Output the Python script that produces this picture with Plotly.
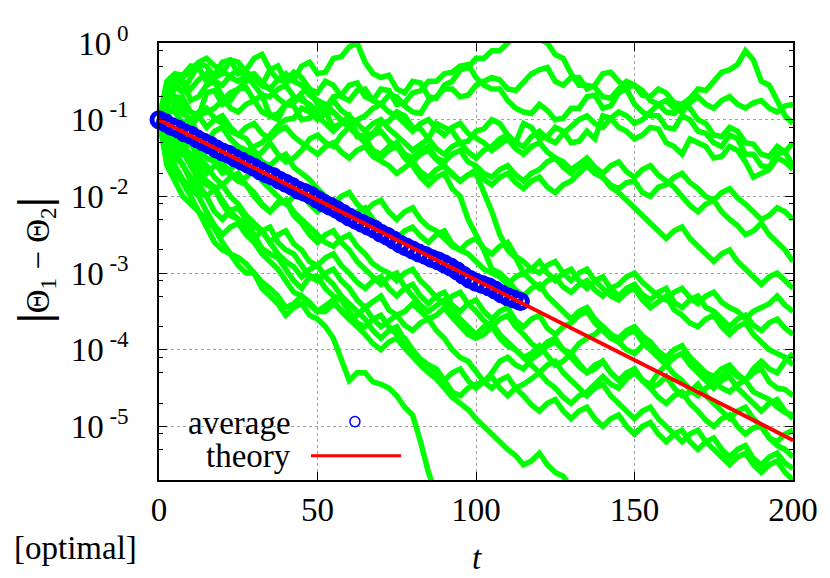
import plotly.graph_objects as go

# Values as log10 exponents (one decade = one unit).
# Each walk is read at t = 0, 5, ..., 200 ("_a") and at t = 2.5, 7.5, ..., 197.5 ("_b").
walk_t = [i * 2.5 for i in range(81)]

u1_a = [-1.0, -0.55, -0.45, -0.3, -0.4, -0.25, -0.45, -0.35, -0.5, -0.3, -0.4, -0.2, -0.05, -0.25,
        -0.45, -0.6, -0.5, -0.7, -0.55, -0.35, -0.2, -0.1, 0.0, 0.1, 0.05, -0.15, -0.4, -0.55, -0.7,
        -0.6, -0.55, -0.7, -0.65, -0.8, -0.6, -0.5, -0.35, -0.1, -0.5, -0.75, -1.05]
u1_b = [-0.65, -0.65, -0.28, -0.45, -0.22, -0.38, -0.55, -0.3, -0.48, -0.25, -0.38, -0.18, 0.0, -0.4,
        -0.42, -0.65, -0.52, -0.72, -0.5, -0.32, -0.2, -0.1, 0.1, 0.05, 0.0, -0.2, -0.55, -0.58, -0.72,
        -0.5, -0.68, -0.6, -0.78, -0.72, -0.62, -0.38, -0.28, -0.22, -0.55, -0.95]
u2_a = [-1.0, -0.4, -0.3, -0.5, -0.25, -0.4, -0.2, -0.35, -0.5, -0.45, -0.65, -0.55, -0.75, -0.6,
        -0.8, -0.7, -0.9, -0.75, -0.6, -0.7, -0.55, -0.45, -0.6, -0.5, -0.35, -0.5, -0.45, -0.6, -0.4,
        -0.5, -0.55, -0.75, -0.9, -0.8, -1.0, -1.2, -1.1, -1.3, -1.45, -1.35, -1.6]
u2_b = [-0.5, -0.42, -0.32, -0.42, -0.22, -0.35, -0.15, -0.48, -0.38, -0.6, -0.5, -0.7, -0.62, -0.75,
        -0.68, -0.82, -0.92, -0.7, -0.6, -0.68, -0.5, -0.48, -0.62, -0.4, -0.32, -0.55, -0.45, -0.55,
        -0.38, -0.58, -0.62, -0.8, -0.92, -0.85, -1.05, -1.22, -1.15, -1.32, -1.48, -1.42]
u3_a = [-1.0, -0.7, -0.9, -0.65, -0.8, -0.6, -0.75, -0.95, -0.8, -1.0, -0.85, -1.1, -0.95, -1.2,
        -1.05, -0.9, -1.1, -1.25, -1.1, -1.3, -1.15, -1.0, -1.2, -1.05, -1.25, -1.1, -1.3, -1.15, -0.95,
        -1.1, -1.25, -1.1, -1.3, -1.45, -1.3, -1.5, -1.35, -1.55, -1.7, -1.5, -1.65]
u3_b = [-0.8, -0.72, -0.95, -0.62, -0.75, -0.58, -0.68, -0.92, -0.82, -0.98, -0.9, -1.05, -1.22, -1.18,
        -1.02, -0.95, -1.12, -1.05, -1.15, -1.28, -1.12, -1.05, -1.3, -1.1, -1.22, -1.15, -1.28, -1.25,
        -0.98, -1.15, -1.2, -1.12, -1.35, -1.25, -1.35, -1.48, -1.4, -1.75, -1.65, -1.55]
u4_a = [-1.0, -0.6, -0.75, -0.55, -0.7, -0.9, -0.75, -0.95, -0.8, -0.65, -0.8, -0.7, -0.55, -0.7,
        -0.6, -0.8, -0.65, -0.5, -0.4, -0.3, -0.45, -0.6, -0.75, -0.9, -0.8, -1.0, -0.85, -0.7, -0.85,
        -0.65, -0.8, -0.95, -1.1, -0.95, -1.15, -1.3, -1.2, -1.45, -1.6, -1.45, -1.3]
u4_b = [-0.7, -0.5, -0.7, -0.5, -0.85, -0.8, -0.9, -1.0, -0.78, -0.6, -0.85, -0.68, -0.52, -0.75,
        -0.62, -0.78, -0.62, -0.5, -0.38, -0.28, -0.55, -0.6, -0.85, -0.92, -0.88, -0.98, -0.85, -0.68,
        -0.82, -0.6, -0.9, -0.95, -1.12, -1.0, -1.18, -1.35, -1.25, -1.45, -1.62, -1.42]
u5_a = [-1.0, -0.45, -0.6, -0.4, -0.55, -0.35, -0.55, -0.7, -0.55, -0.75, -0.9, -0.75, -0.95, -1.15,
        -1.0, -1.2, -1.4, -1.25, -1.45, -1.3, -1.5, -1.35, -1.2, -1.35, -1.15, -1.3, -1.1, -0.95, -1.1,
        -0.9, -1.05, -0.9, -0.75, -0.9, -0.7, -0.85, -0.7, -0.85, -0.75, -0.9, -0.8]
u5_b = [-0.55, -0.5, -0.48, -0.5, -0.42, -0.4, -0.68, -0.6, -0.7, -0.8, -0.85, -0.88, -1.05, -1.05,
        -1.12, -1.3, -1.32, -1.38, -1.35, -1.42, -1.4, -1.25, -1.3, -1.22, -1.25, -1.18, -1.0, -1.05,
        -0.98, -0.95, -1.0, -0.8, -0.85, -0.78, -0.8, -0.75, -0.8, -0.78, -0.85, -0.82]
m1_a = [-1.0, -1.2, -1.0, -1.3, -1.1, -1.35, -1.5, -1.3, -1.55, -1.4, -1.2, -1.35, -1.1, -1.25,
        -1.45, -1.3, -1.5, -1.35, -1.55, -1.4, -1.6, -1.75, -1.6, -1.8, -1.65, -1.5, -1.7, -1.55, -1.75,
        -1.9, -1.8, -2.0, -1.85, -1.7, -1.9, -2.05, -1.9, -2.1, -2.3, -2.15, -2.3]
m1_b = [-1.3, -1.05, -1.2, -1.15, -1.25, -1.4, -1.42, -1.45, -1.5, -1.25, -1.3, -1.2, -1.2, -1.4,
        -1.35, -1.45, -1.4, -1.5, -1.45, -1.55, -1.7, -1.65, -1.72, -1.7, -1.55, -1.62, -1.6, -1.68,
        -1.85, -1.82, -1.95, -1.88, -1.75, -1.82, -2.0, -1.95, -2.02, -2.2, -2.25, -2.2]
m2_a = [-1.0, -0.8, -1.0, -0.85, -1.05, -1.2, -1.05, -1.25, -1.1, -1.3, -1.45, -1.3, -1.5, -1.35,
        -1.55, -1.7, -1.55, -1.75, -1.6, -1.8, -1.7, -2.2, -2.7, -3.0, -2.85, -3.1, -2.95, -3.2, -3.05,
        -3.3, -3.15, -3.35, -3.2, -3.45, -3.3, -3.5, -3.7, -3.55, -3.75, -3.6, -3.8]
m2_b = [-0.95, -0.92, -0.9, -0.98, -1.15, -1.1, -1.18, -1.15, -1.22, -1.38, -1.35, -1.42, -1.4, -1.48,
        -1.6, -1.62, -1.68, -1.65, -1.72, -1.72, -1.95, -2.5, -2.8, -2.95, -3.0, -3.0, -3.1, -3.1, -3.2,
        -3.2, -3.28, -3.25, -3.38, -3.35, -3.45, -3.6, -3.6, -3.68, -3.65, -3.72]
m3_a = [-1.0, -1.4, -1.25, -1.5, -1.7, -1.55, -1.35, -1.2, -1.0, -0.85, -1.0, -0.9, -1.1, -0.95,
        -0.8, -0.95, -1.15, -1.0, -1.2, -1.05, -1.25, -1.4, -1.25, -1.45, -1.3, -1.5, -1.65, -1.5, -1.7,
        -1.55, -1.75, -1.6, -1.8, -2.0, -2.2, -2.05, -2.3, -2.5, -2.35, -2.6, -2.85]
m3_b = [-1.15, -1.35, -1.4, -1.55, -1.65, -1.42, -1.3, -1.08, -0.98, -0.9, -0.92, -1.0, -1.0, -0.85,
        -0.9, -1.05, -1.05, -1.12, -1.1, -1.18, -1.3, -1.32, -1.38, -1.35, -1.42, -1.55, -1.58, -1.62,
        -1.6, -1.68, -1.65, -1.72, -1.88, -2.12, -2.1, -2.2, -2.38, -2.45, -2.5, -2.7]
d1_a = [-1.0, -1.3, -1.5, -1.35, -1.6, -1.8, -1.65, -1.9, -2.1, -1.95, -2.2, -2.05, -2.3, -2.15,
        -2.4, -2.55, -2.4, -2.6, -2.45, -2.7, -2.55, -2.75, -2.6, -2.85, -3.0, -2.85, -3.1, -2.95, -3.2,
        -3.35, -3.2, -3.45, -3.3, -3.55, -3.7, -3.55, -3.8, -3.65, -3.9, -4.05, -4.2]
d1_b = [-1.2, -1.45, -1.38, -1.5, -1.72, -1.75, -1.8, -2.0, -2.0, -2.1, -2.1, -2.2, -2.2, -2.3,
        -2.5, -2.45, -2.52, -2.5, -2.62, -2.6, -2.68, -2.65, -2.78, -2.95, -2.9, -3.0, -3.0, -3.1, -3.3,
        -3.25, -3.35, -3.38, -3.48, -3.65, -3.6, -3.7, -3.7, -3.8, -4.0, -4.1]
d2_a = [-1.0, -0.7, -0.9, -1.1, -0.95, -1.2, -1.4, -1.6, -1.45, -1.7, -1.9, -2.1, -1.95, -2.2,
        -2.05, -2.3, -2.15, -2.4, -2.55, -2.7, -2.85, -3.0, -3.15, -3.0, -3.2, -3.05, -3.25, -3.1, -3.3,
        -3.15, -3.0, -3.2, -3.35, -3.2, -3.4, -3.25, -3.45, -3.6, -3.45, -3.3, -3.5]
d2_b = [-0.8, -0.85, -0.95, -1.0, -1.1, -1.25, -1.55, -1.5, -1.62, -1.78, -2.0, -2.0, -2.1, -2.1,
        -2.2, -2.2, -2.3, -2.45, -2.65, -2.75, -2.95, -3.05, -3.05, -3.1, -3.1, -3.18, -3.15, -3.22,
        -3.2, -3.05, -3.12, -3.3, -3.25, -3.32, -3.3, -3.38, -3.5, -3.5, -3.4, -3.42]
d3_a = [-1.0, -1.5, -1.8, -2.0, -2.3, -2.15, -2.4, -2.6, -2.45, -2.7, -2.9, -2.75, -3.0, -3.2,
        -3.05, -3.3, -3.15, -3.4, -3.25, -3.5, -3.35, -3.6, -3.45, -3.7, -3.55, -3.8, -3.65, -3.5, -3.75,
        -3.9, -4.05, -3.9, -4.1, -3.95, -4.2, -4.35, -4.2, -4.4, -4.25, -4.5, -4.6]
d3_b = [-1.35, -1.58, -1.95, -2.2, -2.18, -2.3, -2.45, -2.5, -2.62, -2.85, -2.8, -2.9, -3.12, -3.1,
        -3.2, -3.2, -3.3, -3.3, -3.42, -3.4, -3.5, -3.5, -3.62, -3.6, -3.72, -3.7, -3.55, -3.65, -3.85,
        -4.0, -3.95, -4.02, -4.0, -4.12, -4.3, -4.25, -4.32, -4.3, -4.42, -4.52]
d4_a = [-1.0, -1.8, -2.1, -2.4, -2.7, -2.9, -3.0, -3.3, -3.55, -3.4, -3.6, -3.85, -4.4, -4.3,
        -4.45, -4.6, -4.85, -5.6, -6.2] + [None] * 22
d4_b = [-1.6, -2.0, -2.2, -2.6, -2.75, -3.0, -3.2, -3.4, -3.45, -3.55, -3.7, -4.15, -4.3, -4.42,
        -4.5, -4.75, -5.2, -5.9] + [None] * 22
d5_a = [-1.0, -1.6, -1.9, -2.2, -2.5, -2.35, -2.6, -2.85, -3.1, -3.3, -3.5, -3.35, -3.6, -3.8,
        -4.0, -3.85, -4.1, -4.3, -4.5, -4.7, -4.9, -5.1, -5.3, -5.5, -5.35, -5.6, -5.8, -6.2] + [None] * 13
d5_b = [-1.4, -1.78, -2.0, -2.38, -2.4, -2.5, -2.75, -2.95, -3.25, -3.38, -3.42, -3.5, -3.68, -3.92,
        -3.9, -3.98, -4.2, -4.38, -4.62, -4.78, -5.0, -5.22, -5.38, -5.45, -5.5, -5.65, -6.0] + [None] * 13
d6_a = [-1.0, -1.2, -1.45, -1.7, -1.55, -1.8, -2.0, -2.2, -2.05, -2.3, -2.5, -2.65, -2.5, -2.75,
        -2.95, -3.1, -2.95, -3.2, -3.4, -3.25, -3.5, -3.7, -3.55, -3.8, -4.0, -3.85, -4.1, -4.3, -4.15,
        -4.4, -4.25, -4.5, -4.7, -4.55, -4.8, -5.0, -4.85, -5.1, -5.0, -5.25, -5.4]
d6_b = [-1.15, -1.35, -1.6, -1.6, -1.7, -1.85, -2.12, -2.1, -2.2, -2.4, -2.6, -2.55, -2.65, -2.88,
        -3.0, -3.0, -3.1, -3.32, -3.3, -3.4, -3.62, -3.6, -3.7, -3.92, -3.9, -4.0, -4.22, -4.2, -4.3,
        -4.3, -4.4, -4.62, -4.6, -4.7, -4.92, -4.9, -5.0, -5.02, -5.15, -5.3]
d7_a = [-1.0, -1.35, -1.6, -1.85, -2.1, -2.3, -2.55, -2.4, -2.7, -2.9, -3.1, -2.95, -3.2, -3.45,
        -3.3, -3.55, -3.75, -3.6, -3.85, -4.1, -4.3, -4.5, -4.35, -4.6, -4.8, -4.65, -4.9, -4.75, -5.0,
        -4.85, -5.1, -4.95, -5.2, -5.05, -5.3, -5.15, -5.4, -5.25, -5.5, -5.35, -5.55]
d7_b = [-1.25, -1.42, -1.78, -1.9, -2.25, -2.4, -2.45, -2.6, -2.75, -3.05, -3.0, -3.1, -3.35, -3.38,
        -3.48, -3.68, -3.65, -3.75, -4.0, -4.15, -4.42, -4.4, -4.5, -4.72, -4.7, -4.8, -4.8, -4.9, -4.9,
        -5.0, -5.0, -5.1, -5.1, -5.2, -5.2, -5.3, -5.3, -5.42, -5.4, -5.48]
d8_a = [-1.0, -1.7, -2.0, -2.3, -2.6, -2.8, -3.0, -3.2, -3.45, -3.3, -3.5, -3.4, -3.6, -3.45,
        -3.7, -3.55, -3.4, -3.6, -3.45, -3.7, -3.85, -3.7, -3.95, -4.1, -3.95, -4.2, -4.05, -4.3, -4.15,
        -4.4, -4.25, -4.5, -4.35, -4.6, -4.45, -4.7, -4.9, -4.75, -5.0, -5.2, -5.05]
d8_b = [-1.5, -1.82, -2.2, -2.42, -2.75, -2.88, -3.12, -3.3, -3.4, -3.42, -3.5, -3.48, -3.55, -3.6,
        -3.62, -3.5, -3.5, -3.55, -3.58, -3.8, -3.8, -3.85, -4.0, -4.05, -4.08, -4.15, -4.18, -4.25,
        -4.3, -4.35, -4.4, -4.45, -4.5, -4.55, -4.6, -4.82, -4.8, -4.9, -5.15, -5.1]
d9_a = [-1.0, -1.25, -1.55, -1.8, -2.05, -2.3, -2.5, -2.75, -2.95, -3.2, -3.05, -3.3, -3.5, -3.7,
        -3.55, -3.8, -4.0, -4.2, -4.4, -4.6, -4.45, -4.3, -4.1, -4.25, -4.05, -3.9, -4.05, -3.85, -3.7,
        -3.85, -3.7, -3.9, -4.1, -3.95, -4.2, -4.4, -4.55, -4.4, -4.6, -4.75, -4.85]
d9_b = [-1.2, -1.35, -1.7, -1.88, -2.2, -2.35, -2.68, -2.8, -3.1, -3.05, -3.2, -3.35, -3.65, -3.6,
        -3.7, -3.85, -4.15, -4.25, -4.55, -4.5, -4.42, -4.15, -4.2, -4.12, -3.95, -4.0, -3.92, -3.8,
        -3.8, -3.75, -3.82, -4.05, -4.0, -4.1, -4.32, -4.5, -4.45, -4.55, -4.65, -4.82]
e1_a = [-1.0, -0.5, -0.35, -0.2, -0.35, -0.5, -0.4, -0.6, -0.8, -0.7, -0.95, -1.15, -1.0, -1.3,
        -1.5, -1.35, -1.6, -1.85, -1.7, -2.0, -2.5, -2.95, -3.1, -3.3, -3.15, -3.4, -3.6, -3.45, -3.7,
        -3.9, -3.75, -4.0, -4.2, -4.05, -4.3, -4.5, -4.35, -4.6, -4.8, -4.65, -4.9]
e1_b = [-0.6, -0.45, -0.25, -0.3, -0.45, -0.42, -0.52, -0.72, -0.72, -0.85, -1.05, -1.05, -1.18, -1.42,
        -1.4, -1.5, -1.75, -1.75, -1.9, -2.3, -2.7, -3.0, -3.22, -3.2, -3.3, -3.5, -3.5, -3.6, -3.82,
        -3.8, -3.9, -4.12, -4.1, -4.2, -4.42, -4.4, -4.5, -4.72, -4.7, -4.8]
e2_a = [-1.0, -0.9, -1.1, -0.9, -0.75, -0.6, -0.45, -0.6, -0.4, -0.55, -0.75, -0.9, -1.1, -1.3,
        -1.15, -1.35, -1.55, -1.4, -1.6, -1.8, -1.65, -1.85, -1.7, -1.9, -1.75, -1.95, -1.8, -1.6, -1.75,
        -1.95, -2.15, -2.35, -2.55, -2.4, -2.65, -2.85, -2.7, -2.95, -3.15, -3.0, -3.2]
e2_b = [-0.85, -1.05, -0.95, -0.85, -0.65, -0.5, -0.55, -0.48, -0.5, -0.68, -0.8, -1.02, -1.2, -1.2,
        -1.28, -1.45, -1.45, -1.52, -1.7, -1.72, -1.78, -1.75, -1.82, -1.8, -1.88, -1.85, -1.7, -1.7,
        -1.88, -2.05, -2.25, -2.45, -2.45, -2.55, -2.75, -2.75, -2.85, -3.05, -3.05, -3.1]
e3_a = [-1.0, -1.5, -1.3, -1.6, -1.85, -1.7, -1.95, -2.2, -2.05, -2.35, -2.6, -2.45, -2.7, -2.95,
        -3.15, -3.0, -3.3, -3.5, -3.35, -3.6, -3.8, -3.65, -3.9, -4.1, -4.3, -4.15, -4.4, -4.6, -4.45,
        -4.7, -4.9, -4.75, -5.0, -5.2, -5.05, -5.3, -5.5, -5.35, -5.6, -5.45, -5.7]
e3_b = [-1.3, -1.38, -1.5, -1.75, -1.75, -1.85, -2.1, -2.08, -2.25, -2.5, -2.5, -2.6, -2.85, -3.05,
        -3.05, -3.18, -3.42, -3.42, -3.5, -3.72, -3.7, -3.8, -4.0, -4.22, -4.2, -4.3, -4.52, -4.5, -4.6,
        -4.82, -4.8, -4.9, -5.12, -5.1, -5.2, -5.42, -5.4, -5.5, -5.5, -5.6]
e4_a = [-1.0, -1.4, -1.75, -2.0, -1.85, -2.1, -2.35, -2.6, -2.85, -3.05, -2.9, -3.15, -3.4, -3.6,
        -3.85, -3.7, -4.0, -4.2, -4.4, -4.25, -4.5, -4.35, -4.6, -4.45, -4.3, -4.5, -4.7, -4.55, -4.35,
        -4.5, -4.3, -4.45, -4.2, -4.4, -4.6, -4.45, -4.25, -4.4, -4.15, -4.3, -4.05]
e4_b = [-1.25, -1.6, -1.85, -1.9, -2.0, -2.25, -2.45, -2.75, -2.92, -2.95, -3.05, -3.3, -3.5, -3.75,
        -3.75, -3.88, -4.12, -4.3, -4.3, -4.4, -4.42, -4.5, -4.5, -4.38, -4.42, -4.62, -4.6, -4.45,
        -4.45, -4.38, -4.4, -4.3, -4.32, -4.52, -4.5, -4.35, -4.35, -4.25, -4.25, -4.15]

walk_pairs = [(u1_a, u1_b), (u2_a, u2_b), (u3_a, u3_b), (u4_a, u4_b), (u5_a, u5_b),
              (m1_a, m1_b), (m2_a, m2_b), (m3_a, m3_b),
              (d1_a, d1_b), (d2_a, d2_b), (d3_a, d3_b), (d4_a, d4_b), (d5_a, d5_b),
              (d6_a, d6_b), (d7_a, d7_b), (d8_a, d8_b), (d9_a, d9_b),
              (e1_a, e1_b), (e2_a, e2_b), (e3_a, e3_b), (e4_a, e4_b)]

avg_t = list(range(0, 115, 2))
avg_exp = [-1.00, -1.04, -1.09, -1.12, -1.17, -1.20, -1.25, -1.29, -1.33, -1.38,
           -1.42, -1.45, -1.50, -1.54, -1.58, -1.62, -1.67, -1.71, -1.74, -1.79,
           -1.83, -1.87, -1.92, -1.95, -1.99, -2.04, -2.09, -2.13, -2.17, -2.22,
           -2.27, -2.31, -2.35, -2.39, -2.43, -2.48, -2.52, -2.57, -2.62, -2.66,
           -2.70, -2.74, -2.77, -2.81, -2.84, -2.88, -2.92, -2.97, -3.03, -3.08,
           -3.12, -3.15, -3.18, -3.22, -3.27, -3.31, -3.34, -3.37]

theory_t = [0, 200]
theory_exp = [-1.0, -5.18]

y_tick_exp = [0, -1, -2, -3, -4, -5]
y_tick_text = ["10<sup> 0</sup>", "10<sup> -1</sup>", "10<sup> -2</sup>",
               "10<sup> -3</sup>", "10<sup> -4</sup>", "10<sup> -5</sup>"]
y_minor_mant = [2, 5, 8]
x_ticks = [0, 50, 100, 150, 200]


def to_val(exps):
    return [None if e is None else 10 ** e for e in exps]


def weave(on_five, between):
    out = []
    for i, v in enumerate(on_five):
        out.append(v)
        if i < len(between):
            out.append(between[i])
    return out


FONT = "Liberation Serif"
FS = 33

fig = go.Figure()

for a, b in walk_pairs:
    fig.add_trace(
        go.Scatter(
            x=walk_t,
            y=to_val(weave(a, b)),
            mode="lines",
            line={"color": "#00ff00", "width": 5.5},
            hoverinfo="skip",
            showlegend=False,
        )
    )

fig.add_trace(
    go.Scatter(
        x=avg_t,
        y=to_val(avg_exp),
        mode="markers",
        cliponaxis=False,
        marker={
            "symbol": "circle-open",
            "size": 14,
            "color": "#0000ff",
            "line": {"width": 5, "color": "#0000ff"},
        },
        showlegend=False,
    )
)
fig.add_trace(
    go.Scatter(
        x=theory_t,
        y=to_val(theory_exp),
        mode="lines",
        line={"color": "#ff0000", "width": 4},
        showlegend=False,
    )
)

minor_vals = [m * 10 ** e for e in range(-6, 1) for m in y_minor_mant]

# the page adds an 8px body margin, so the figure is 8px smaller than the window
fig.update_layout(
    width=822,
    height=570,
    margin={"l": 151, "r": 29, "t": 30, "b": 98},
    paper_bgcolor="white",
    plot_bgcolor="white",
    font={"family": FONT, "size": FS, "color": "black"},
    showlegend=False,
)
fig.update_xaxes(
    range=[0, 200],
    tickvals=x_ticks,
    ticks="inside",
    ticklen=8,
    tickwidth=1.2,
    tickcolor="black",
    showline=True,
    linecolor="black",
    linewidth=1.5,
    mirror="ticks",
    showgrid=True,
    gridcolor="#a0a0a0",
    griddash="dot",
    gridwidth=1,
    zeroline=False,
    ticklabelstandoff=0,
)
fig.update_yaxes(
    type="log",
    range=[-5.699, 0],
    tickvals=to_val(y_tick_exp),
    ticktext=y_tick_text,
    ticks="inside",
    ticklen=8,
    tickwidth=1.2,
    tickcolor="black",
    minor={"tickvals": minor_vals, "ticks": "inside", "ticklen": 4, "tickcolor": "black", "showgrid": False},
    showline=True,
    linecolor="black",
    linewidth=1.5,
    mirror="ticks",
    showgrid=True,
    gridcolor="#a0a0a0",
    griddash="dot",
    gridwidth=1,
    zeroline=False,
    ticklabelstandoff=22,
)

# axis titles and corner label
fig.add_annotation(
    text="<b><span style='font-size:46px'>|</span></b>Θ<sub>1</sub> − Θ<sub>2</sub>"
         "<b><span style='font-size:46px'>|</span></b>",
    xref="paper", yref="paper", x=-0.196, y=0.502, textangle=-90,
    xanchor="center", yanchor="middle", showarrow=False, font={"size": FS},
)
fig.add_annotation(
    text="<i>t</i>", xref="paper", yref="paper", x=0.502, y=-0.178,
    xanchor="center", yanchor="middle", showarrow=False, font={"size": FS},
)
fig.add_annotation(
    text="[optimal]", xref="paper", yref="paper", x=-0.131, y=-0.155,
    xanchor="center", yanchor="middle", showarrow=False, font={"size": FS},
)

# gnuplot-style key
fig.add_annotation(
    text="average", xref="paper", yref="paper", x=0.2114, y=0.1313,
    xanchor="right", yanchor="middle", showarrow=False, font={"size": FS},
)
fig.add_annotation(
    text="theory", xref="paper", yref="paper", x=0.2114, y=0.0553,
    xanchor="right", yanchor="middle", showarrow=False, font={"size": FS},
)
fig.add_shape(
    type="circle", xref="paper", yref="paper",
    x0=0.309 - 0.0079, x1=0.309 + 0.0079, y0=0.1336 - 0.0115, y1=0.1336 + 0.0115,
    line={"color": "#0000ff", "width": 1.5}, layer="above",
)
fig.add_shape(
    type="line", xref="paper", yref="paper",
    x0=0.2397, x1=0.3817, y0=0.0553, y1=0.0553,
    line={"color": "#ff0000", "width": 3}, layer="above",
)

fig.write_html("out.html")
